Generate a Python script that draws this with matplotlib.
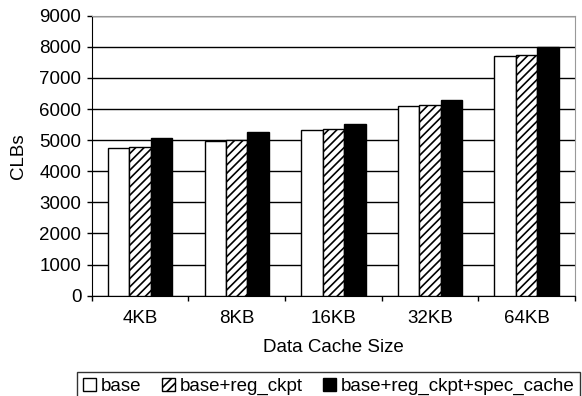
import numpy as np
import matplotlib.pyplot as plt

plt.rcParams['font.family'] = ['Liberation Sans', 'DejaVu Sans']
plt.rcParams['hatch.linewidth'] = 1.2

sizes = ['4KB', '8KB', '16KB', '32KB', '64KB']
base = [4740, 4980, 5320, 6100, 7700]
reg_ckpt = [4770, 5000, 5350, 6130, 7730]
spec_cache = [5080, 5270, 5530, 6290, 8000]

fs = 13.5

fig = plt.figure(figsize=(5.82, 3.96), dpi=100)
ax = fig.add_axes([91.7 / 582, 1 - 295.7 / 396, (575 - 91.7) / 582, 280 / 396])

x = np.arange(len(sizes))
w = 0.222
ax.bar(x - w, base, w, color='white', edgecolor='black', linewidth=1, label='base', zorder=3)
ax.bar(x, reg_ckpt, w, color='white', edgecolor='black', hatch='////', linewidth=1,
       label='base+reg_ckpt', zorder=3)
ax.bar(x + w, spec_cache, w, color='black', edgecolor='black', linewidth=1,
       label='base+reg_ckpt+spec_cache', zorder=3)

ax.set_xlim(-0.5, len(sizes) - 0.5)
ax.set_ylim(0, 9000)
ax.set_yticks(np.arange(0, 9001, 1000))
ax.yaxis.grid(True, color='black', linewidth=1)
ax.set_axisbelow(True)

ax.set_xticks(x)
ax.set_xticklabels(sizes, fontsize=fs)
ax.set_xticks(np.arange(-0.5, len(sizes)), minor=True)
ax.tick_params(axis='x', which='major', length=0, pad=10)
ax.tick_params(axis='x', which='minor', length=3.5, width=1, direction='out')
ax.tick_params(axis='y', length=3.5, width=1, direction='out', labelsize=fs, pad=4)

for s in ['top', 'right']:
    ax.spines[s].set_color('#999999')
for s in ['left', 'bottom']:
    ax.spines[s].set_color('black')

ax.set_xlabel('Data Cache Size', fontsize=fs, labelpad=9)
ax.set_ylabel('CLBs', fontsize=fs, labelpad=9)

leg = fig.legend(loc='upper left', bbox_to_anchor=(77 / 582, 1 - 372 / 396), ncol=3,
                 fontsize=fs, frameon=True, fancybox=False, edgecolor='black',
                 handlelength=0.7, handleheight=0.7, handletextpad=0.25,
                 columnspacing=1.1, borderpad=0.3, borderaxespad=0)
leg.get_frame().set_linewidth(1)

fig.savefig('out.png', dpi=100)
